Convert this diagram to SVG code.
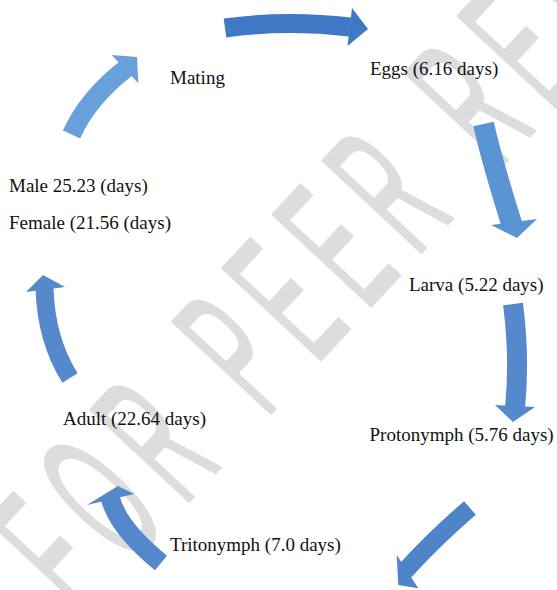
<svg xmlns="http://www.w3.org/2000/svg" width="557" height="590" viewBox="0 0 557 590">
<style>
.lbl{font-family:"Liberation Serif","Times New Roman",serif;font-size:19px;fill:#111}
.body{fill:none;stroke-linecap:butt}
.wm{font-family:"Liberation Sans",Arial,sans-serif;font-size:195px;fill:#dddddd;stroke:#dddddd;stroke-width:3;stroke-linejoin:round}
</style>
<rect width="557" height="590" fill="#ffffff"/>
<g id="watermark">
<text class="wm" letter-spacing="49" transform="translate(81,617) rotate(-47) scale(0.41,1)">FOR PEER REVIEW</text>
</g>
<g id="connectors">
<g id="a-mating-eggs" fill="#3f78c4" stroke="#3f78c4">
<path class="body" stroke-width="19" d="M225,28 Q286.5,19.5 350,27"/>
<polygon stroke="none" points="352,8 368,29 347.5,46"/>
</g>
<g id="a-eggs-larva" fill="#5b94d4" stroke="#5b94d4">
<path class="body" stroke-width="21" d="M483.5,124 Q492.5,163 512,225"/>
<polygon stroke="none" points="491,225 537,219 517,238"/>
</g>
<g id="a-larva-protonymph" fill="#5589cc" stroke="#5589cc">
<path class="body" stroke-width="20" d="M513,304 Q520,357 515,408"/>
<polygon stroke="none" points="495,405 535,407 513,422"/>
</g>
<g id="a-protonymph-tritonymph" fill="#4f84c8" stroke="#4f84c8">
<path class="body" stroke-width="18" d="M470,508 Q436,537 404,572"/>
<polygon stroke="none" points="396.7,555 398.3,585 418.3,588.3"/>
</g>
<g id="a-tritonymph-adult" fill="#5588cb" stroke="#5588cb">
<path class="body" stroke-width="19" d="M161,563 Q117,527 110,497"/>
<polygon stroke="none" points="87,505 118,486 134,494"/>
</g>
<g id="a-adult-sexes" fill="#5589cc" stroke="#5589cc">
<path class="body" stroke-width="18" d="M70,378 Q46,340 44.5,288"/>
<polygon stroke="none" points="26,292 43,275 65,287"/>
</g>
<g id="a-sexes-mating" fill="#68a0dc" stroke="#68a0dc">
<path class="body" stroke-width="19" d="M71.5,134.5 Q88,98 126,68.5"/>
<polygon stroke="none" points="111.7,55 137,57 138.3,83.3"/>
</g>
</g>
<g id="n-mating"><text class="lbl" x="170" y="84">Mating</text></g>
<g id="n-eggs"><text class="lbl" x="370" y="75">Eggs (6.16 days)</text></g>
<g id="n-sexes"><text class="lbl" x="9" y="191.5">Male 25.23 (days)</text><text class="lbl" x="9" y="228.5">Female (21.56 (days)</text></g>
<g id="n-larva"><text class="lbl" x="409" y="290.5">Larva (5.22 days)</text></g>
<g id="n-adult"><text class="lbl" x="63" y="425">Adult (22.64 days)</text></g>
<g id="n-protonymph"><text class="lbl" x="369.5" y="441">Protonymph (5.76 days)</text></g>
<g id="n-tritonymph"><text class="lbl" x="170" y="551">Tritonymph (7.0 days)</text></g>
</svg>
